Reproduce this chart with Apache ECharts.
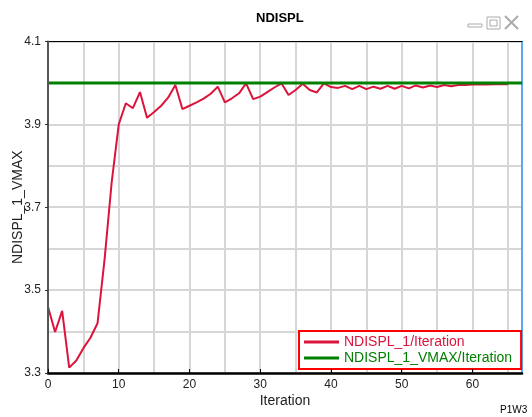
<!DOCTYPE html>
<html>
<head>
<meta charset="utf-8">
<script src="https://cdn.jsdelivr.net/npm/echarts@6/dist/echarts.min.js"></script>
<style>
html,body{margin:0;padding:0;background:#fff;}
#chart{width:532px;height:417px;}
</style>
</head>
<body>
<div id="chart"></div>
<script>
// ---- data ----
var redIterations = [0,1,2,3,4,5,6,7,8,9,10,11,12,13,14,15,16,17,18,19,20,21,22,23,24,25,26,27,28,29,30,31,32,33,34,35,36,37,38,39,40,41,42,43,44,45,46,47,48,49,50,51,52,53,54,55,56,57,58,59,60,61,62,63,64,65];
var redValues = [3.46,3.399,3.45,3.313,3.33,3.36,3.385,3.42,3.575,3.76,3.90,3.951,3.939,3.978,3.916,3.93,3.945,3.965,3.995,3.937,3.945,3.953,3.962,3.974,3.991,3.953,3.963,3.975,3.999,3.961,3.967,3.978,3.989,3.999,3.971,3.983,3.998,3.983,3.977,3.999,3.99,3.988,3.993,3.985,3.993,3.985,3.991,3.986,3.993,3.986,3.993,3.987,3.994,3.989,3.994,3.99,3.995,3.992,3.995,3.995,3.996,3.996,3.996,3.997,3.997,3.997];
var greenIterations = [0,67];
var greenValues = [4.0,4.0];
var xTickLabels = [0,10,20,30,40,50,60];
var yTickLabels = [3.3,3.5,3.7,3.9,4.1];
var redName = 'NDISPL_1/Iteration';
var greenName = 'NDISPL_1_VMAX/Iteration';

function pairs(xs, ys){ return xs.map(function(x,i){ return [x, ys[i]]; }); }

var FONT = 'Liberation Sans, Arial, sans-serif';
var chart = echarts.init(document.getElementById('chart'), null, {renderer:'canvas'});
chart.setOption({
  animation: false,
  backgroundColor: '#fff',
  textStyle: {fontFamily: FONT},
  title: {
    text: 'NDISPL', left: 256, top: 12, padding: 0,
    textStyle: {fontSize: 13, fontWeight: 'bold', color: '#000', fontFamily: FONT}
  },
  grid: {left: 48, right: 10, top: 41.5, bottom: 44, containLabel: false, outerBoundsMode: 'none'},
  legend: {
    left: 299, top: 331, orient: 'vertical',
    icon: 'rect', itemWidth: 35, itemHeight: 3, itemGap: 2,
    padding: [4, 9, 4, 5],
    borderColor: '#ff0000', borderWidth: 2, backgroundColor: '#fff',
    textStyle: {fontSize: 14, fontFamily: FONT},
    data: [
      {name: redName, textStyle: {color: '#DC143C'}},
      {name: greenName, textStyle: {color: '#008000'}}
    ]
  },
  xAxis: [{
    type: 'value', min: 0, max: 67, interval: 5, z: 5,
    name: 'Iteration', nameLocation: 'middle', nameGap: 21, nameMoveOverlap: false,
    nameTextStyle: {fontSize: 14, color: '#222', fontFamily: FONT},
    axisLine: {show: true, onZero: false, lineStyle: {color: '#000', width: 2.5}},
    axisTick: {show: true, inside: true, length: 4, customValues: xTickLabels, lineStyle: {color: '#000', width: 1}},
    axisLabel: {customValues: xTickLabels, margin: 6, fontSize: 12, color: '#222', fontFamily: FONT},
    splitLine: {show: false}
  }, {
    type: 'value', position: 'top', min: 0, max: 67, interval: 5,
    axisLine: {show: true, onZero: false, lineStyle: {color: '#000', width: 1}},
    axisTick: {show: false}, axisLabel: {show: false},
    splitLine: {show: true, lineStyle: {color: '#d6d6d6', width: 2}}
  }],
  yAxis: [{
    type: 'value', min: 3.3, max: 4.1, interval: 0.1, z: 5,
    name: 'NDISPL_1_VMAX', nameLocation: 'middle', nameGap: 23, nameRotate: 90, nameMoveOverlap: false,
    nameTextStyle: {fontSize: 14, color: '#222', fontFamily: FONT},
    axisLine: {show: true, onZero: false, lineStyle: {color: '#555', width: 2}},
    axisTick: {show: true, inside: false, length: 3, customValues: yTickLabels, lineStyle: {color: '#333', width: 1}},
    axisLabel: {customValues: yTickLabels, margin: 7, fontSize: 12, color: '#222', fontFamily: FONT,
      formatter: function(v){ return v.toFixed(1); }},
    splitLine: {show: false}
  }, {
    type: 'value', position: 'right', min: 3.3, max: 4.1, interval: 0.1,
    axisLine: {show: true, onZero: false, lineStyle: {color: '#3399ff', width: 1.5}},
    axisTick: {show: false}, axisLabel: {show: false},
    splitLine: {show: true, lineStyle: {color: '#d6d6d6', width: 2}}
  }],
  series: [
    {
      name: greenName, type: 'line', xAxisIndex: 0, yAxisIndex: 0,
      data: pairs(greenIterations, greenValues), showSymbol: false, symbol: 'none',
      lineStyle: {color: '#008000', width: 3}, itemStyle: {color: '#008000'}, z: 3
    },
    {
      name: redName, type: 'line', xAxisIndex: 0, yAxisIndex: 0,
      data: pairs(redIterations, redValues), showSymbol: false, symbol: 'none',
      lineStyle: {color: '#DC143C', width: 2}, itemStyle: {color: '#DC143C'}, z: 2
    }
  ],
  graphic: [
    {type: 'rect', shape: {x: 468, y: 24, width: 14, height: 3}, style: {fill: '#fff', stroke: '#aaa', lineWidth: 1}},
    {type: 'rect', shape: {x: 487, y: 17, width: 13, height: 12}, style: {fill: '#fff', stroke: '#aaa', lineWidth: 1}},
    {type: 'rect', shape: {x: 490, y: 20, width: 7, height: 6}, style: {fill: '#fff', stroke: '#aaa', lineWidth: 1}},
    {type: 'line', shape: {x1: 505, y1: 16, x2: 518, y2: 29}, style: {stroke: '#aaa', lineWidth: 2}},
    {type: 'line', shape: {x1: 518, y1: 16, x2: 505, y2: 29}, style: {stroke: '#aaa', lineWidth: 2}},
    {type: 'text', left: 500, top: 405, style: {text: 'P1W3', fontSize: 10, fill: '#000', fontFamily: FONT}}
  ]
});
</script>
</body>
</html>
